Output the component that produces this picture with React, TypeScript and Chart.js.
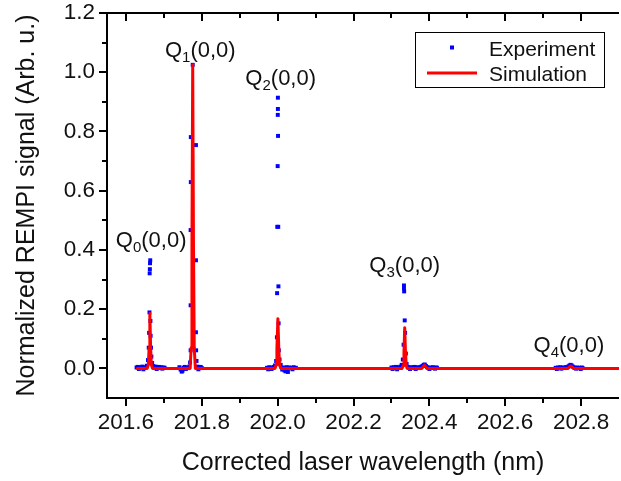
import { useEffect, useRef } from 'react';
import { Chart, registerables } from 'chart.js';

Chart.register(...registerables);

// ---- Experiment (blue squares), grouped by band ----
const expWavelength = [
  // Q0
  201.628, 201.631, 201.634, 201.637, 201.640, 201.643, 201.646, 201.649, 201.652, 201.655, 201.658, 201.660,
  201.661, 201.662, 201.6625, 201.663, 201.6635, 201.664, 201.6645, 201.665, 201.666, 201.667, 201.669, 201.672,
  201.675, 201.678, 201.681, 201.684, 201.687, 201.690, 201.693, 201.696, 201.699, 201.702,
  // Q1
  201.741, 201.744, 201.747, 201.749, 201.752, 201.755, 201.758, 201.761, 201.764, 201.767, 201.769, 201.7705,
  201.7705, 201.7705, 201.771, 201.771, 201.776, 201.7845, 201.7845, 201.7845, 201.785, 201.786, 201.788, 201.791,
  201.794, 201.797, 201.800,
  // Q2
  201.972, 201.975, 201.978, 201.981, 201.984, 201.987, 201.990, 201.993, 201.996, 201.998, 201.9985, 201.999,
  202.0, 202.0003, 202.0006, 202.0006, 202.001, 202.0015, 202.002, 202.0025, 202.003, 202.005, 202.008, 202.012,
  202.015, 202.018, 202.021, 202.024, 202.027, 202.030, 202.033, 202.036, 202.039, 202.042, 202.045, 202.048,
  // Q3
  202.300, 202.303, 202.306, 202.309, 202.312, 202.315, 202.318, 202.321, 202.324, 202.327, 202.330, 202.332,
  202.333, 202.333, 202.3335, 202.335, 202.336, 202.338, 202.340, 202.343, 202.346, 202.349, 202.352, 202.355,
  202.358, 202.361, 202.364, 202.367, 202.370, 202.373, 202.376, 202.379, 202.382, 202.385, 202.388, 202.391,
  202.394, 202.397, 202.400, 202.403, 202.406, 202.409, 202.412, 202.415, 202.418, 202.420,
  // Q4
  202.733, 202.736, 202.739, 202.742, 202.745, 202.748, 202.751, 202.754, 202.757, 202.760, 202.763, 202.766,
  202.769, 202.772, 202.775, 202.778, 202.781, 202.784, 202.787, 202.790, 202.793, 202.796, 202.799, 202.802,
  202.804,
];

const expSignal = [
  // Q0
  0.003, 0.005, -0.002, 0.004, 0.001, 0.006, -0.003, 0.002, 0.004, 0.009, 0.028, 0.07,
  0.12, 0.189, 0.321, 0.335, 0.355, 0.365, 0.16, 0.11, 0.07, 0.04, 0.018, 0.008,
  0.004, 0.006, -0.002, 0.003, 0.005, 0.001, 0.004, -0.001, 0.003, 0.002,
  // Q1
  0.004, -0.004, -0.011, -0.008, 0.002, 0.005, -0.002, 0.003, 0.001, 0.006, 0.02, 0.061,
  0.213, 0.467, 0.629, 0.781, 1.025, 0.754, 0.365, 0.122, 0.061, 0.025, 0.006, -0.003,
  0.002, 0.005, 0.001,
  // Q2
  0.002, -0.003, 0.004, 0.001, -0.002, 0.003, 0.005, 0.01, 0.025, 0.105, 0.254, 0.478,
  0.683, 0.856, 0.914, 0.876, 0.785, 0.478, 0.277, 0.152, 0.061, 0.03, 0.012, -0.004,
  0.003, -0.007, -0.01, 0.004, -0.012, 0.003, 0.001, 0.002, -0.003, 0.004, 0.001, 0.002,
  // Q3
  0.003, -0.002, 0.004, 0.001, 0.005, -0.003, 0.002, 0.004, 0.006, 0.012, 0.03, 0.08,
  0.28, 0.27, 0.26, 0.162, 0.12, 0.05, 0.015, 0.005, 0.002, -0.002, 0.004, 0.001,
  0.003, 0.005, -0.002, 0.002, 0.004, 0.001, 0.003, 0.006, 0.008, 0.012, 0.013, 0.008,
  0.004, 0.002, -0.002, 0.003, 0.001, 0.004, 0.002, -0.001, 0.003, 0.002,
  // Q4
  0.002, -0.002, 0.003, 0.001, 0.004, -0.001, 0.002, 0.003, 0.001, 0.004, 0.003, 0.006,
  0.009, 0.012, 0.01, 0.006, 0.003, 0.002, -0.001, 0.003, 0.001, 0.002, -0.002, 0.003,
  0.001,
];

// ---- Simulation (red line) ----
const simWavelength = [
  201.63, 201.656, 201.659, 201.661, 201.663, 201.665, 201.667, 201.670,
  201.769, 201.772, 201.774, 201.776, 201.778, 201.780, 201.783,
  201.993, 201.996, 201.998, 202.0006, 202.003, 202.005, 202.008,
  202.328, 202.331, 202.333, 202.335, 202.337, 202.339, 202.342,
  202.380, 202.387, 202.394,
  202.765, 202.773, 202.781,
  202.9,
];
const simSignal = [
  0, 0, 0.012, 0.07, 0.185, 0.07, 0.012, 0,
  0, 0.07, 0.42, 1.025, 0.42, 0.07, 0,
  0, 0.012, 0.065, 0.168, 0.065, 0.012, 0,
  0, 0.01, 0.055, 0.137, 0.055, 0.01, 0,
  0, 0.011, 0,
  0, 0.008, 0,
  0,
];

const seriesNames = ['Experiment', 'Simulation'];

// ---- Axes ----
const xMajorTicks = [201.6, 201.8, 202.0, 202.2, 202.4, 202.6, 202.8];
const xMinorTicks = [201.7, 201.9, 202.1, 202.3, 202.5, 202.7];
const yMajorTicks = [0.0, 0.2, 0.4, 0.6, 0.8, 1.0, 1.2];
const yMinorTicks = [0.1, 0.3, 0.5, 0.7, 0.9, 1.1];

// ---- Band annotations Q_v(0,0) ----
const bandSubscripts = ['0', '1', '2', '3', '4'];
const bandLabelWavelength = [201.6664, 201.796, 202.008, 202.335, 202.768];
const bandLabelSignal = [0.411, 1.051, 0.957, 0.326, 0.056];

const FONT = '"Liberation Sans", Arial, Helvetica, sans-serif';
const TEXT = '#111111';
const BLUE = '#0000ff';
const RED = '#ff0000';

const decorPlugin = {
  id: 'decor',
  afterDatasetsDraw(chart: any) {
    const { ctx, chartArea: a, scales } = chart;
    const xs = scales.x;
    const ys = scales.y;
    ctx.save();
    // axes frame (left, bottom, top)
    ctx.strokeStyle = '#000';
    ctx.lineWidth = 2;
    ctx.lineCap = 'butt';
    ctx.beginPath();
    ctx.moveTo(a.left, a.top - 1);
    ctx.lineTo(a.left, a.bottom + 1);
    ctx.moveTo(a.left - 1, a.bottom);
    ctx.lineTo(a.right, a.bottom);
    ctx.moveTo(a.left - 1, a.top);
    ctx.lineTo(a.right, a.top);
    // x ticks: bottom outward, top inward
    const xTick = (v: number, major: boolean) => {
      const px = Math.round(xs.getPixelForValue(v));
      ctx.moveTo(px, a.bottom);
      ctx.lineTo(px, a.bottom + (major ? 8 : 5));
      ctx.moveTo(px, a.top);
      ctx.lineTo(px, a.top + (major ? 8 : 5));
    };
    xMajorTicks.forEach((v) => xTick(v, true));
    xMinorTicks.forEach((v) => xTick(v, false));
    // y ticks: left outward
    const yTick = (v: number, major: boolean) => {
      const py = Math.round(ys.getPixelForValue(v));
      ctx.moveTo(a.left, py);
      ctx.lineTo(a.left - (major ? 8 : 5), py);
    };
    yMajorTicks.forEach((v) => yTick(v, true));
    yMinorTicks.forEach((v) => yTick(v, false));
    ctx.stroke();

    // band labels
    ctx.fillStyle = TEXT;
    ctx.textAlign = 'left';
    ctx.textBaseline = 'alphabetic';
    const mainFont = `22px ${FONT}`;
    const subFont = `15px ${FONT}`;
    bandSubscripts.forEach((sub, i) => {
      const px = xs.getPixelForValue(bandLabelWavelength[i]);
      const py = ys.getPixelForValue(bandLabelSignal[i]);
      ctx.font = mainFont;
      const w1 = ctx.measureText('Q').width;
      const w3 = ctx.measureText('(0,0)').width;
      ctx.font = subFont;
      const w2 = ctx.measureText(sub).width;
      let x0 = px - (w1 + w2 + w3) / 2;
      ctx.font = mainFont;
      ctx.fillText('Q', x0, py);
      ctx.font = subFont;
      ctx.fillText(sub, x0 + w1, py + 5);
      ctx.font = mainFont;
      ctx.fillText('(0,0)', x0 + w1 + w2, py);
    });

    // legend box
    const lx = 415, ly = 32, lw = 189, lh = 55;
    ctx.fillStyle = '#ffffff';
    ctx.fillRect(lx, ly, lw, lh);
    ctx.strokeStyle = '#000';
    ctx.lineWidth = 1;
    ctx.strokeRect(lx + 0.5, ly + 0.5, lw, lh);
    ctx.fillStyle = BLUE;
    ctx.fillRect(450, 45.5, 4, 4);
    ctx.strokeStyle = RED;
    ctx.lineWidth = 3;
    ctx.beginPath();
    ctx.moveTo(427, 73);
    ctx.lineTo(477, 73);
    ctx.stroke();
    ctx.fillStyle = TEXT;
    ctx.font = `21px ${FONT}`;
    ctx.fillText(seriesNames[0], 489, 56);
    ctx.fillText(seriesNames[1], 489, 80.5);
    ctx.restore();
  },
};

export default function App() {
  const canvasRef = useRef<HTMLCanvasElement | null>(null);

  useEffect(() => {
    const canvas = canvasRef.current;
    if (!canvas) return;
    const expData = expWavelength.map((x, i) => ({ x, y: expSignal[i] }));
    const simData = simWavelength.map((x, i) => ({ x, y: simSignal[i] }));
    const tickFont = { family: FONT, size: 22.5 };
    const chart = new Chart(canvas, {
      type: 'scatter',
      data: {
        datasets: [
          {
            label: seriesNames[0],
            data: expData,
            showLine: false,
            pointStyle: 'rect',
            pointRadius: 2.8,
            pointBorderWidth: 0,
            pointBackgroundColor: BLUE,
            backgroundColor: BLUE,
            borderColor: BLUE,
            order: 2,
          },
          {
            label: seriesNames[1],
            data: simData,
            showLine: true,
            pointRadius: 0,
            borderColor: RED,
            backgroundColor: RED,
            borderWidth: 3,
            borderJoinStyle: 'round',
            borderCapStyle: 'round',
            tension: 0,
            order: 1,
          },
        ],
      } as any,
      options: {
        responsive: false,
        maintainAspectRatio: false,
        animation: false,
        events: [],
        layout: { padding: { top: 13, right: 0, bottom: 0, left: 0 } },
        plugins: { legend: { display: false }, tooltip: { enabled: false } },
        scales: {
          x: {
            type: 'linear',
            min: 201.55,
            max: 202.9,
            grid: { display: false, drawTicks: false },
            border: { display: false },
            ticks: {
              autoSkip: false,
              maxRotation: 0,
              padding: 11,
              color: TEXT,
              font: tickFont,
              callback: (v: any) => Number(v).toFixed(1),
            },
            afterBuildTicks: (scale: any) => {
              scale.ticks = xMajorTicks.map((value) => ({ value }));
            },
            afterFit: (scale: any) => {
              scale.height = 83;
              scale.paddingLeft = 0;
              scale.paddingRight = 0;
            },
            title: {
              display: true,
              text: 'Corrected laser wavelength (nm)',
              color: TEXT,
              font: { family: FONT, size: 25 },
              padding: { top: 0, bottom: 3 },
            },
          },
          y: {
            type: 'linear',
            min: -0.1,
            max: 1.2,
            grid: { display: false, drawTicks: false },
            border: { display: false },
            ticks: {
              autoSkip: false,
              padding: 12,
              color: TEXT,
              font: tickFont,
              callback: (v: any) => Number(v).toFixed(1),
            },
            afterBuildTicks: (scale: any) => {
              scale.ticks = yMajorTicks.map((value) => ({ value }));
            },
            afterFit: (scale: any) => {
              scale.width = 107;
              scale.paddingTop = 0;
              scale.paddingBottom = 0;
            },
            title: {
              display: true,
              text: 'Normalized REMPI signal (Arb. u.)',
              color: TEXT,
              font: { family: FONT, size: 25 },
              padding: { top: 12, bottom: 0 },
            },
          },
        },
      } as any,
      plugins: [decorPlugin],
    });
    return () => chart.destroy();
  }, []);

  return (
    <div
      style={{
        position: 'fixed',
        left: 0,
        top: 0,
        width: 621,
        height: 481,
        overflow: 'hidden',
        background: '#fff',
      }}
    >
      <canvas ref={canvasRef} width={623} height={481} style={{ width: 623, height: 481, display: 'block' }} />
    </div>
  );
}
